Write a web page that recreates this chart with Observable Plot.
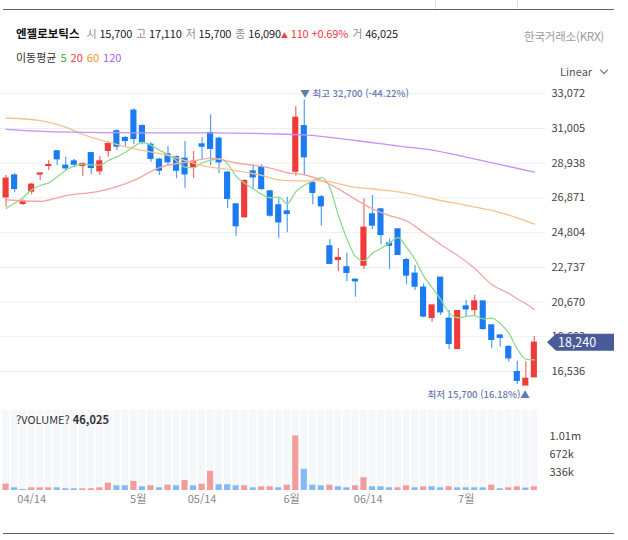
<!DOCTYPE html>
<html lang="ko">
<head>
<meta charset="utf-8">
<script src="https://cdn.jsdelivr.net/npm/d3@7"></script>
<script src="https://cdn.jsdelivr.net/npm/@observablehq/plot@0.6"></script>
<style>
html,body{margin:0;padding:0;background:#fff;}
#wrap{position:relative;width:628px;height:540px;overflow:hidden;font-family:"Noto Sans CJK KR","Noto Sans",sans-serif;color:#222;}
.abs{position:absolute;white-space:nowrap;line-height:18px;}
.g{color:#8e8e8e;}
.chev{display:inline-block;width:5px;height:5px;border-right:1px solid #666;border-bottom:1px solid #666;transform:rotate(45deg);margin-left:9px;position:relative;top:-3px;}
</style>
</head>
<body>
<div id="wrap">
  <div class="abs" style="left:3px;top:9px;width:611px;height:0;border-top:1px solid #5f6368"></div>
  <div class="abs" style="left:435px;top:0;height:9px;border-left:1px solid #e2e2e2"></div>
  <div class="abs" style="left:517px;top:0;height:9px;border-left:1px solid #e2e2e2"></div>
  <div id="hdr" class="abs" style="left:16px;top:24px;font-size:11px;letter-spacing:-0.15px"></div>
  <div id="exch" class="abs" style="right:24px;top:27px;font-size:11.5px;color:#9a9a9a;letter-spacing:-0.2px"></div>
  <div id="legend" class="abs" style="left:16px;top:48px;font-size:11px;color:#333"></div>
  <div class="abs" style="left:560px;top:62px;font-size:11px;color:#555">Linear<span class="chev"></span></div>
  <div id="price" class="abs" style="left:0;top:78px;line-height:0"></div>
  <div id="volume" class="abs" style="left:0;top:408px;line-height:0"></div>
  <div id="volLabel" class="abs" style="left:16px;top:410px;font-size:11px;color:#333"></div>
  <div class="abs" style="left:3px;top:533px;width:611px;height:0;border-top:1px solid #5f6368"></div>
</div>
<script>
const stockName = "엔젤로보틱스";
const exchange = "한국거래소(KRX)";

const opens = [26910,28200,26520,27250,28270,28780,29640,28780,29040,28780,29530,28460,29680,30830,30430,32060,31140,30030,29140,29460,29300,29200,28720,30050,30730,30390,28370,26480,25720,28440,28700,27250,26420,26060,28440,31140,27750,26900,23980,23180,22730,21990,22840,25880,26180,24150,24990,23160,22350,21520,19730,22110,19670,17880,20400,20200,20700,19270,18670,17980,16490,15700,16190];
const highs = [28200,28310,26760,27750,28370,29100,29640,29300,29160,28960,29530,29340,30230,30950,30530,32180,31230,30150,29240,29930,29360,30230,29640,30450,31820,30490,28440,26480,27950,28840,28840,27310,26820,26910,32320,32700,27910,27010,24380,23840,23580,22050,26820,27010,26260,24430,24990,23280,22840,21750,20460,22110,20160,20160,20760,21060,20700,19270,18670,18080,17140,17110,18610];
const lows = [26320,27180,26420,27060,27890,28500,28800,28500,28660,28160,28250,28200,29300,29680,29890,30030,30030,29000,28200,28800,28010,27450,28010,29100,28800,28310,26220,24590,25720,27370,27310,25720,24470,24790,28160,28200,26460,25190,22890,22490,21890,20960,22610,24990,24080,22590,23440,21690,21360,19730,19470,19870,17820,17820,19810,19810,18970,17880,17980,17080,15750,15700,16190];
const closes = [28010,27410,26660,27650,28320,28820,29180,28640,28860,28880,28660,29040,30070,29930,30270,30390,30190,29200,28500,29000,28500,28280,29020,29930,29800,29000,26820,25190,27870,28100,27410,25820,25420,25920,31640,29300,27180,26380,22950,23280,22410,21910,25090,25230,24670,24030,23480,22250,21590,19810,20460,20060,18180,20120,20240,20700,19070,18420,18540,17320,15980,16090,18240];
const volumes = [118000,50000,19000,50000,50000,50000,50000,32000,32000,32000,32000,50000,137000,88000,88000,168000,69000,88000,50000,99000,88000,187000,88000,118000,355000,107000,107000,88000,88000,50000,69000,69000,50000,99000,1010000,393000,99000,88000,99000,69000,50000,88000,237000,69000,69000,50000,50000,88000,50000,69000,69000,50000,69000,50000,50000,50000,50000,99000,32000,50000,69000,46025,69000];
const volumeUp = [1,0,0,1,1,1,0,0,0,1,1,1,1,0,0,1,0,1,0,1,0,1,0,1,1,0,0,0,1,0,1,1,0,1,1,0,0,0,1,0,0,1,1,0,0,0,1,1,0,1,0,0,1,0,0,0,0,1,0,1,1,0,1];

const ma5 = [26250,26550,26900,27350,27610,27770,28130,28520,28760,28880,28840,28820,29100,29320,29590,29940,30170,30000,29710,29460,29080,28700,28660,28950,29110,29210,28910,28150,27740,27400,27080,26880,26920,26530,27240,27620,27890,28080,27490,25820,24440,23390,23130,23580,23860,24190,24500,23930,23200,22230,21520,20830,20020,19730,19810,19860,19660,19710,19390,18810,17870,17270,17230];
const ma20 = [[0,26760],[4,26670],[7,27010],[11,27270],[15,27910],[18,28680],[22,29060],[24,29240],[27,28950],[31,28650],[33,28370],[35,28250],[37,27910],[39,27410],[41,26780],[43,26220],[45,25820],[47,25500],[49,24810],[51,24100],[53,23440],[55,22670],[57,21710],[59,21180],[60,20860],[61,20570],[62,20220]];
const ma60 = [[0,31630],[4,31480],[7,31090],[9,30650],[12,30200],[15,29800],[19,29400],[23,28800],[27,28500],[30,28210],[32,27940],[34,27880],[37,27880],[41,27500],[43,27400],[47,27160],[50,26820],[54,26420],[58,26000],[60,25680],[62,25310]];
const ma120 = [[0,30950],[6,30800],[16,30750],[24,30750],[31,30690],[35,30620],[41,30290],[46,29960],[50,29720],[54,29300],[58,28860],[62,28400]];

const maPeriods = ["5","20","60","120"];
const maTextColors = ["#2db52d","#f03c3c","#f7931e","#a35cf0"];
const maLineColors = ["#8edb8e","#f6a5a5","#f9c18d","#c393f5"];

const priceTicks = [16536,18603,20670,22737,24804,26871,28938,31005,33072];
const volTicks = [336000,672000,1010000];
const volTickLabels = ["336k","672k","1.01m"];
const xTickPos = [3,15.5,23,33.5,42.5,54];
const xTickLabels = ["04/14","5월","05/14","6월","06/14","7월"];

const FONT = '"Noto Sans CJK KR","Noto Sans",sans-serif';
const RED = "#f03b3b", BLUE = "#1a7cf0", ANN = "#6878b0";
const fmt = d3.format(",");
const N = closes.length;
const idx = d3.range(N);
const candles = idx.map(i => ({i, o: opens[i], h: highs[i], l: lows[i], c: closes[i]}));
const col = d => d.c >= d.o ? RED : BLUE;
const maSeries = [ma5.map((v, i) => [i, v]), ma20, ma60, ma120];
const xDomain = [-0.657, 63.31];

const lastClose = closes[N - 1];
const hiIdx = d3.maxIndex(highs), loIdx = d3.minIndex(lows);
const hiPct = (lastClose - highs[hiIdx]) / highs[hiIdx] * 100;
const loPct = (lastClose - lows[loIdx]) / lows[loIdx] * 100;

function badge(index, scales, values, dimensions) {
  const y = scales.y(lastClose);
  const x0 = dimensions.width - dimensions.marginRight + 2;
  const g = d3.create("svg:g");
  g.append("path")
    .attr("d", `M${x0},${y}L${x0 + 9},${y - 8.5}L${x0 + 67},${y - 8.5}L${x0 + 67},${y + 8.5}L${x0 + 9},${y + 8.5}Z`)
    .attr("fill", "#4a5b99");
  g.append("text").attr("x", x0 + 11).attr("y", y).attr("dy", "0.36em")
    .attr("text-anchor", "start")
    .style("fill", "#ffffff").style("font-size", "12.5px").style("font-family", FONT)
    .text(fmt(lastClose));
  return g.node();
}

const price = Plot.plot({
  width: 628, height: 330,
  marginLeft: 0, marginRight: 83, marginTop: 0, marginBottom: 0,
  x: {domain: xDomain, axis: null},
  y: {domain: [14325, 33984], axis: null},
  style: {fontFamily: FONT, fontSize: "11px", background: "transparent", overflow: "visible"},
  marks: [
    Plot.gridY(priceTicks, {stroke: "#eceef2", strokeOpacity: 1}),
    Plot.axisY(priceTicks, {anchor: "right", tickSize: 0, tickPadding: 6, tickFormat: fmt, fill: "#444", fontSize: 11}),
    Plot.ruleX(candles, {x: "i", y1: "l", y2: "h", stroke: col, strokeWidth: 1.2, strokeOpacity: 0.75}),
    Plot.rect(candles, {x1: d => d.i - 0.36, x2: d => d.i + 0.36, y1: "o", y2: "c", fill: col, insetTop: -0.7, insetBottom: -0.7}),
    ...maSeries.map((s, k) => Plot.line(s, {x: d => d[0], y: d => d[1], stroke: maLineColors[k], strokeWidth: 1.3, curve: "monotone-x"})),
    Plot.text([hiIdx], {x: d => d, y: d => highs[d], text: d => `▼ 최고 ${fmt(highs[d])} (${hiPct.toFixed(2)}%)`, textAnchor: "start", dx: -4, dy: -6, fill: ANN, fontSize: 9.5, fontWeight: 500}),
    Plot.text([loIdx], {x: d => d, y: d => lows[d], text: d => `최저 ${fmt(lows[d])} (${loPct.toFixed(2)}%)▲`, textAnchor: "end", dx: 4, dy: 10, fill: ANN, fontSize: 9.5, fontWeight: 500}),
    badge
  ]
});
document.getElementById("price").append(price);

const volMax = 1.52e6;
const volume = Plot.plot({
  width: 628, height: 102,
  marginLeft: 0, marginRight: 83, marginTop: 0, marginBottom: 20,
  x: {domain: xDomain, axis: null},
  y: {domain: [0, volMax], axis: null},
  style: {fontFamily: FONT, fontSize: "11px", background: "transparent", overflow: "visible"},
  marks: [
    Plot.rect(idx, {x1: i => i - 0.41, x2: i => i + 0.41, y1: 0, y2: volMax, fill: "#f5f7fb", insetTop: 2}),
    Plot.rect(idx, {x1: i => i - 0.36, x2: i => i + 0.36, y1: 0, y2: i => volumes[i], fill: i => volumeUp[i] ? "#f49c9c" : "#83bbf7"}),
    Plot.axisY(volTicks, {anchor: "right", tickSize: 0, tickPadding: 4, tickFormat: d => volTickLabels[volTicks.indexOf(d)], fill: "#444", fontSize: 11}),
    Plot.axisX(xTickPos, {anchor: "bottom", tickSize: 0, tickPadding: 5, tickFormat: d => xTickLabels[xTickPos.indexOf(d)], fill: "#888", fontSize: 11})
  ]
});
document.getElementById("volume").append(volume);

const h = N - 2;
const chg = closes[h] - closes[h - 1];
const chgPct = chg / closes[h - 1] * 100;
document.getElementById("hdr").innerHTML =
  `<b style="color:#111;font-size:11.5px;letter-spacing:0">${stockName}</b>` +
  `<span class="g" style="margin-left:7px">시</span> ${fmt(opens[h])}` +
  `<span class="g" style="margin-left:4px">고</span> ${fmt(highs[h])}` +
  `<span class="g" style="margin-left:4px">저</span> ${fmt(lows[h])}` +
  `<span class="g" style="margin-left:4px">종</span> ${fmt(closes[h])}` +
  `<span style="color:${RED}"><span style="font-size:7px">▲</span> ${fmt(chg)} +${chgPct.toFixed(2)}%</span>` +
  `<span class="g" style="margin-left:4px">거</span> ${fmt(volumes[h])}`;
document.getElementById("exch").textContent = exchange;
document.getElementById("legend").innerHTML = "이동평균" +
  maPeriods.map((p, k) => `<span style="color:${maTextColors[k]};margin-left:4px">${p}</span>`).join("");
document.getElementById("volLabel").innerHTML = `?VOLUME? <b>${fmt(volumes[h])}</b>`;
</script>
</body>
</html>
